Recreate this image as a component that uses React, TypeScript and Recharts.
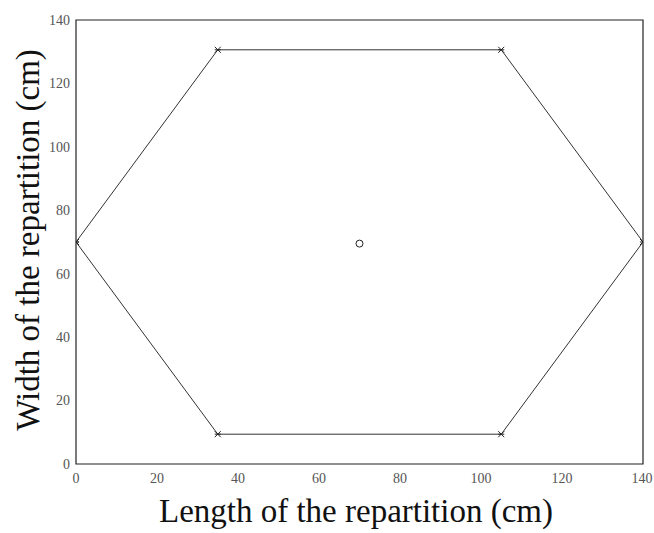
import { ComposedChart, Line, Scatter, XAxis, YAxis, ReferenceArea } from "recharts";

// hexagon outline, walked in drawing order (closes back on the first point)
const hexX = [0, 35, 105, 140, 105, 35, 0];
const hexY = [70, 9.4, 9.4, 70, 130.6, 130.6, 70];
const centerX = [70];
const centerY = [69.5];
const ticks = [0, 20, 40, 60, 80, 100, 120, 140];

const hexData = hexX.map((x, i) => ({ x, y: hexY[i] }));
const centerData = centerX.map((x, i) => ({ x, y: centerY[i] }));

const INK = "#222";
const FONT = "'Liberation Serif', 'Times New Roman', serif";
const TICK_LEN = 4;
const TICK_FILL = "#555";
const TICK_FONT = 14;

// MATLAB style: tick marks point into the plot box
function BottomTick(props: any) {
  const { x, y, payload, tickMargin } = props;
  const ay = y - tickMargin;
  return (
    <g>
      <line x1={x} y1={ay} x2={x} y2={ay - TICK_LEN} stroke={INK} />
      <text x={x} y={y} dy="0.8em" textAnchor="middle" fill={TICK_FILL} fontSize={TICK_FONT} fontFamily={FONT}>
        {payload.value}
      </text>
    </g>
  );
}

function LeftTick(props: any) {
  const { x, y, payload, tickMargin } = props;
  const ax = x + tickMargin;
  return (
    <g>
      <line x1={ax} y1={y} x2={ax + TICK_LEN} y2={y} stroke={INK} />
      <text x={x} y={y} dy="0.35em" textAnchor="end" fill={TICK_FILL} fontSize={TICK_FONT} fontFamily={FONT}>
        {payload.value}
      </text>
    </g>
  );
}

function TopTick(props: any) {
  const { x, y, tickMargin } = props;
  const ay = y + tickMargin;
  return <line x1={x} y1={ay} x2={x} y2={ay + TICK_LEN} stroke={INK} />;
}

function RightTick(props: any) {
  const { x, y, tickMargin } = props;
  const ax = x - tickMargin;
  return <line x1={ax} y1={y} x2={ax - TICK_LEN} y2={y} stroke={INK} />;
}

function Cross(props: any) {
  const { cx, cy } = props;
  if (cx == null || cy == null) return null;
  const s = 3;
  return (
    <g stroke={INK} strokeWidth={1}>
      <line x1={cx - s} y1={cy - s} x2={cx + s} y2={cy + s} />
      <line x1={cx - s} y1={cy + s} x2={cx + s} y2={cy - s} />
      <line x1={cx - s} y1={cy} x2={cx + s} y2={cy} />
    </g>
  );
}

export default function App() {
  return (
    <div style={{ position: "absolute", left: 0, top: 0, width: 654, height: 533, background: "#fff" }}>
      <ComposedChart width={654} height={533} margin={{ top: 0, right: 0, left: 0, bottom: 0 }}>
        <XAxis
          type="number"
          dataKey="x"
          domain={[0, 140]}
          ticks={ticks}
          height={69}
          axisLine={false}
          tickLine={false}
          tickSize={0}
          tickMargin={8}
          tick={<BottomTick />}
          allowDataOverflow
        />
        <XAxis
          xAxisId="top"
          orientation="top"
          type="number"
          domain={[0, 140]}
          ticks={ticks}
          height={20}
          axisLine={false}
          tickLine={false}
          tickSize={0}
          tickMargin={0}
          tick={<TopTick />}
          allowDataOverflow
        />
        <YAxis
          type="number"
          dataKey="y"
          domain={[0, 140]}
          ticks={ticks}
          width={76}
          axisLine={false}
          tickLine={false}
          tickSize={0}
          tickMargin={6}
          tick={<LeftTick />}
          allowDataOverflow
        />
        <YAxis
          yAxisId="right"
          orientation="right"
          type="number"
          domain={[0, 140]}
          ticks={ticks}
          width={11}
          axisLine={false}
          tickLine={false}
          tickSize={0}
          tickMargin={0}
          tick={<RightTick />}
          allowDataOverflow
        />
        <ReferenceArea x1={0} x2={140} y1={0} y2={140} fill="none" stroke={INK} strokeWidth={1.2} ifOverflow="visible" />
        <Line
          data={hexData}
          dataKey="y"
          type="linear"
          stroke="#333"
          strokeWidth={1}
          dot={<Cross />}
          activeDot={false}
          isAnimationActive={false}
        />
        <Scatter
          data={centerData}
          dataKey="y"
          shape={(p: any) => <circle cx={p.cx} cy={p.cy} r={3.5} fill="none" stroke={INK} strokeWidth={1} />}
          isAnimationActive={false}
        />
      </ComposedChart>
      <svg
        width={654}
        height={533}
        style={{ position: "absolute", left: 0, top: 0, pointerEvents: "none" }}
      >
        <text x={356} y={522} textAnchor="middle" fontFamily={FONT} fontSize={33} fill="#111">
          Length of the repartition (cm)
        </text>
        <text
          x={0}
          y={0}
          transform="translate(39 240) rotate(-90)"
          textAnchor="middle"
          fontFamily={FONT}
          fontSize={33}
          fill="#111"
        >
          Width of the repartition (cm)
        </text>
      </svg>
    </div>
  );
}
